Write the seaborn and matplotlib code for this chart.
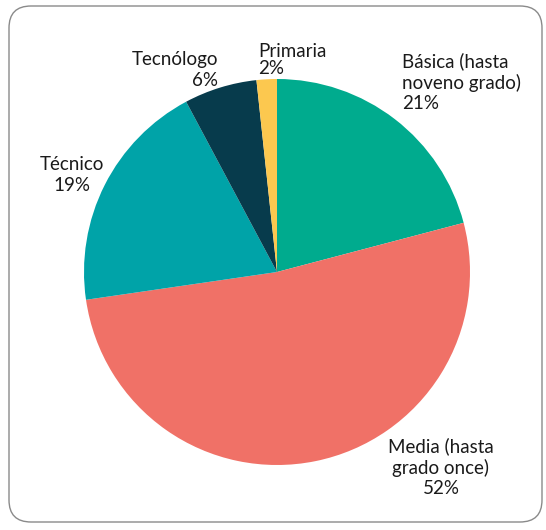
import matplotlib
matplotlib.use("Agg")
import matplotlib.pyplot as plt
from matplotlib.patches import FancyBboxPatch
import seaborn as sns

# datos
categorias = ["Básica (hasta\nnoveno grado)", "Media (hasta\ngrado once)", "Técnico", "Tecnólogo", "Primaria"]
porcentajes = [20.9, 51.8, 19.5, 6.1, 1.7]
etiquetas_pct = ["21%", "52%", "19%", "6%", "2%"]
colores = ["#00AB8E", "#F07167", "#00A3A8", "#073B4C", "#FCC84F"]

sns.set_theme(style="white")
plt.rcParams['font.family'] = ['Lato', 'DejaVu Sans']

W, H = 546, 530
CX, CY, R = 277, 272, 193

fig = plt.figure(figsize=(W / 100, H / 100), dpi=100)
fig.patch.set_facecolor("white")

# borde redondeado
borde = FancyBboxPatch((9, 8), W - 13, H - 14, boxstyle="round,pad=0,rounding_size=22",
                       transform=None, fill=False, edgecolor="#8a8a8a", linewidth=1.0)
fig.patches.append(borde)

ax = fig.add_axes([0, 0, 1, 1])
ax.pie(porcentajes, colors=colores, startangle=90, counterclock=False,
       wedgeprops=dict(linewidth=0))
ax.set_xlim(-CX / R, (W - CX) / R)
ax.set_ylim(-(H - CY) / R, CY / R)
ax.set_aspect("auto")
ax.axis("off")


def px(x, y):
    return (x - CX) / R, (CY - y) / R


# posiciones de etiquetas (px): x, y, alineación
pos = [(402, 82, "left"), (441, 467, "center"), (72, 175, "center"),
       (218, 70, "right"), (258, 60, "left")]

for cat, pct, (x, y, ha) in zip(categorias, etiquetas_pct, pos):
    xs, ys = px(x, y)
    esp = 1.0 if cat == "Primaria" else 1.25
    ax.text(xs, ys, f"{cat}\n{pct}", ha=ha, va="center", fontsize=13.5,
            color="#1a1a1a", linespacing=esp, multialignment=ha)

fig.savefig("out.png", dpi=100)
